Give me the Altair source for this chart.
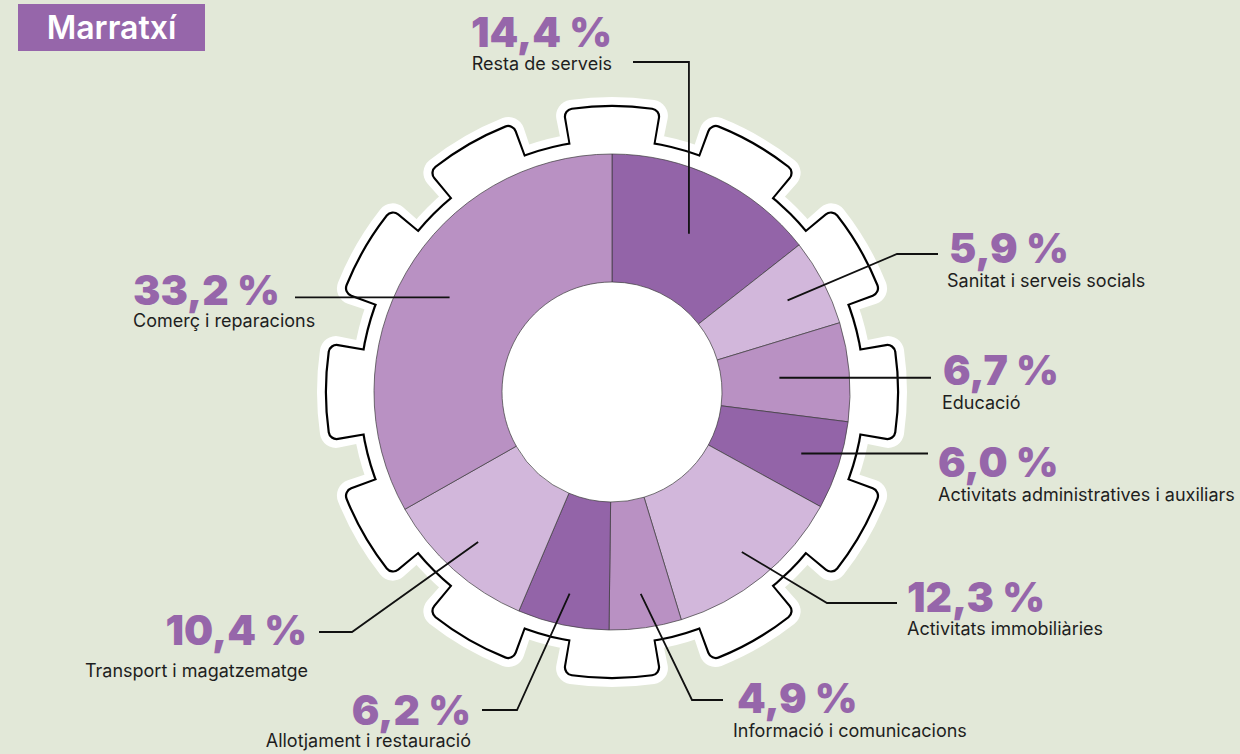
import math
import altair as alt
import pandas as pd

# ---------------- data ----------------
categories = [
    "Resta de serveis",
    "Sanitat i serveis socials",
    "Educació",
    "Activitats administratives i auxiliars",
    "Activitats immobiliàries",
    "Informació i comunicacions",
    "Allotjament i restauració",
    "Transport i magatzematge",
    "Comerç i reparacions",
]
values = [14.4, 5.9, 6.7, 6.0, 12.3, 4.9, 6.2, 10.4, 33.2]
value_labels = ["14,4 %", "5,9 %", "6,7 %", "6,0 %", "12,3 %", "4,9 %", "6,2 %", "10,4 %", "33,2 %"]
shades = ["dark", "light", "mid", "dark", "light", "mid", "dark", "light", "mid"]
title_text = "Marratxí"

# ---------------- layout / style ----------------
W, H = 1240, 754
CX, CY = 612, 392
R_OUT, R_IN = 238, 110
BG = "#e2e8d8"
PURPLE = "#9666aa"
shade_domain = ["dark", "mid", "light"]
shade_range = ["#9364a8", "#b991c3", "#d2b7db"]

# gear decoration
N_TEETH = 12
TOOTH_HALF_DEG = 9.5
GEAR_BODY_R = 251
GEAR_TIP_R = 285

# label layout: align, pct x, pct baseline, name x, name baseline
label_layout = {
    "Resta de serveis": ("right", 612, 47, 612, 70),
    "Sanitat i serveis socials": ("left", 949, 263, 947, 287),
    "Educació": ("left", 943, 385, 942, 409),
    "Activitats administratives i auxiliars": ("left", 938, 477, 938, 501),
    "Activitats immobiliàries": ("left", 907, 612, 907, 635),
    "Informació i comunicacions": ("left", 737, 713, 733, 737),
    "Allotjament i restauració": ("right", 471, 725, 471, 747),
    "Transport i magatzematge": ("right", 307, 645, 308, 677),
    "Comerç i reparacions": ("left", 133, 305, 133, 327),
}
# leader lines: radius of the anchor inside the slice, then further points
# (None in a coordinate = same as the anchor)
leader_layout = {
    "Resta de serveis": (176, [(None, 62), (633, 62)]),
    "Sanitat i serveis socials": (198, [(897, 254), (938, 254)]),
    "Educació": (168, [(931, None)]),
    "Activitats administratives i auxiliars": (199, [(928, None)]),
    "Activitats immobiliàries": (206, [(827, 603), (897, 603)]),
    "Informació i comunicacions": (204, [(692, 700), (723, 700)]),
    "Allotjament i restauració": (206, [(517, 710), (482, 710)]),
    "Transport i magatzematge": (201, [(352, 632), (319, 632)]),
    "Comerç i reparacions": (188, [(295, None)]),
}
title_box = (18, 205, 4, 51)

FONT = "Inter"
PCT_SIZE = 41
NAME_SIZE = 18

# ---------------- tables ----------------
donut_df = pd.DataFrame({
    "idx": list(range(len(categories))),
    "category": categories,
    "value": values,
    "shade": shades,
})

total = sum(values)
lead_rows = []
cum = 0.0
for i, (cat, v) in enumerate(zip(categories, values)):
    mid = (cum + v / 2) / total * 2 * math.pi
    cum += v
    r, pts = leader_layout[cat]
    sx = CX + r * math.sin(mid)
    sy = CY - r * math.cos(mid)
    lead_rows.append({"cat": cat, "step": 0, "x": sx, "y": sy})
    for k, (px, py) in enumerate(pts):
        lead_rows.append({"cat": cat, "step": k + 1,
                          "x": sx if px is None else px,
                          "y": sy if py is None else py})
lead_df = pd.DataFrame(lead_rows)

lab_rows = []
for cat, vl in zip(categories, value_labels):
    al, px, py, nx, ny = label_layout[cat]
    lab_rows.append({"cat": cat, "pct": vl, "align": al,
                     "px": px, "py": py, "nx": nx, "ny": ny})
lab_df = pd.DataFrame(lab_rows)


def gear_df(offset):
    rows = [{"t0": 0.0, "t1": 2 * math.pi, "r": GEAR_BODY_R + offset}]
    half = math.radians(TOOTH_HALF_DEG) + offset / GEAR_TIP_R
    for k in range(N_TEETH):
        a = 2 * math.pi * k / N_TEETH
        rows.append({"t0": a - half, "t1": a + half, "r": GEAR_TIP_R + offset})
    return pd.DataFrame(rows)


xs = alt.Scale(domain=[0, W], nice=False, zero=False)
ys = alt.Scale(domain=[0, H], nice=False, zero=False, reverse=True)


def gear_layer(offset, color, corner):
    return alt.Chart(gear_df(offset)).mark_arc(
        color=color, cornerRadius=corner
    ).encode(
        theta=alt.Theta("t0:Q", scale=None),
        theta2="t1:Q",
        radius=alt.Radius("r:Q", scale=None),
        x=alt.value(CX),
        y=alt.value(CY),
    )


halo = gear_layer(10, "white", 16)
outline = gear_layer(2.2, "black", 9)
fill = gear_layer(0, "white", 7)

donut = alt.Chart(donut_df).mark_arc(
    outerRadius=R_OUT, innerRadius=R_IN, stroke="#3b3b3b", strokeWidth=0.7
).encode(
    theta=alt.Theta("value:Q"),
    order=alt.Order("idx:Q"),
    color=alt.Color("shade:N", scale=alt.Scale(domain=shade_domain, range=shade_range), legend=None),
    x=alt.value(CX),
    y=alt.value(CY),
)

leaders = alt.Chart(lead_df).mark_line(color="#111111", strokeWidth=1.8).encode(
    x=alt.X("x:Q", scale=xs, axis=None),
    y=alt.Y("y:Q", scale=ys, axis=None),
    detail="cat:N",
    order="step:Q",
)


def text_layers(align):
    base = alt.Chart(lab_df).transform_filter(alt.datum.align == align)
    pct = base.mark_text(
        align=align, baseline="alphabetic", font=FONT, fontSize=PCT_SIZE,
        fontWeight=900, color=PURPLE
    ).encode(
        x=alt.X("px:Q", scale=xs, axis=None),
        y=alt.Y("py:Q", scale=ys, axis=None),
        text="pct:N",
    )
    name = base.mark_text(
        align=align, baseline="alphabetic", font=FONT, fontSize=NAME_SIZE,
        fontWeight=400, color="#1e1e1e"
    ).encode(
        x=alt.X("nx:Q", scale=xs, axis=None),
        y=alt.Y("ny:Q", scale=ys, axis=None),
        text="cat:N",
    )
    return [pct, name]


title_df = pd.DataFrame({
    "x": [title_box[0]], "x2": [title_box[1]],
    "y": [title_box[2]], "y2": [title_box[3]],
    "t": [title_text],
    "tx": [(title_box[0] + title_box[1]) / 2], "ty": [39],
})
title_rect = alt.Chart(title_df).mark_rect(color=PURPLE).encode(
    x=alt.X("x:Q", scale=xs, axis=None), x2="x2:Q",
    y=alt.Y("y:Q", scale=ys, axis=None), y2="y2:Q",
)
title_txt = alt.Chart(title_df).mark_text(
    align="center", baseline="alphabetic", font=FONT, fontSize=32,
    fontWeight=600, color="white"
).encode(
    x=alt.X("tx:Q", scale=xs, axis=None),
    y=alt.Y("ty:Q", scale=ys, axis=None),
    text="t:N",
)

chart = alt.layer(
    halo, outline, fill, donut, leaders,
    *text_layers("left"), *text_layers("right"),
    title_rect, title_txt,
).resolve_scale(
    theta="independent", radius="independent"
).properties(
    width=W, height=H, padding=0, autosize=alt.AutoSizeParams(type="none"),
    background=BG,
).configure_view(stroke=None)

chart.save("out.html", embed_options={"renderer": "svg", "actions": False})
